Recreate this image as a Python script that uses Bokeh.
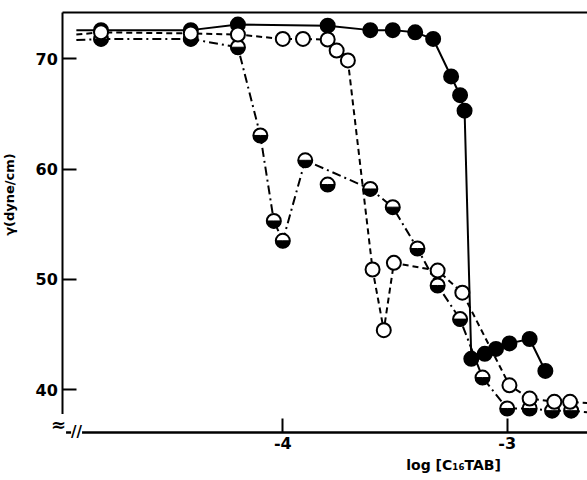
import math
from bokeh.plotting import figure
from bokeh.models import Range1d, FixedTicker, Label, LinearAxis
from bokeh.embed import file_html
from bokeh.resources import INLINE

# ---------------- data ----------------
# filled circles, solid line
filled_x = [-4.81, -4.41, -4.20, -3.80, -3.61, -3.51, -3.41, -3.33, -3.25, -3.21, -3.19,
            -3.16, -3.10, -3.05, -2.99, -2.90, -2.83]
filled_y = [72.6, 72.6, 73.1, 73.0, 72.6, 72.6, 72.4, 71.8, 68.4, 66.7, 65.3,
            42.8, 43.25, 43.7, 44.2, 44.6, 41.7]

# open circles, dashed line
open_x = [-4.81, -4.41, -4.20, -4.00, -3.91, -3.80, -3.76, -3.71, -3.60, -3.55, -3.505,
          -3.31, -3.20, -2.99, -2.90, -2.79, -2.72]
open_y = [72.4, 72.3, 72.2, 71.8, 71.8, 71.75, 70.75, 69.85, 50.9, 45.4, 51.5,
          50.8, 48.8, 40.4, 39.2, 38.9, 38.9]

# half-filled circles, dash-dot line (one point lies off the curve)
half_x = [-4.81, -4.41, -4.20, -4.10, -4.04, -4.00, -3.90, -3.80, -3.61, -3.51, -3.40,
          -3.31, -3.21, -3.11, -3.00, -2.90, -2.80, -2.715]
half_y = [71.8, 71.8, 71.05, 63.05, 55.3, 53.5, 60.8, 58.6, 58.2, 56.55, 52.8,
          49.45, 46.4, 41.1, 38.3, 38.3, 38.1, 38.1]
half_on_curve = [True, True, True, True, True, True, True, False, True, True, True,
                 True, True, True, True, True, True, True]

# where the drawn curves start / end beyond the markers
curve_start_x = -4.92
solid_start_y = 72.6
dashed_start_y = 72.2
dashdot_start_y = 71.7
curve_end_x = -2.64
dashed_end_y = 38.8
dashdot_end_y = 37.95

x_ticks = [-4, -3]
x_tick_labels = {-4: "-4", -3: "-3"}
y_ticks = [40, 50, 60, 70]
x_label = "log [C\u2081\u2086TAB]"
y_label = "\u03b3(dyne/cm)"

# axes box (data units)
X0, X1 = -4.98, -2.64
Y0, Y1 = 36.16, 74.2
# whole canvas (data units) so that texts outside the box are not clipped
CX0, CX1 = -5.258, -2.6422
CY0, CY1 = 31.77, 75.286

FONT = "DejaVu Sans"

p = figure(width=587, height=480, output_backend="svg", toolbar_location=None,
           x_range=Range1d(CX0, CX1), y_range=Range1d(CY0, CY1),
           min_border=0, min_border_left=0, min_border_right=0,
           min_border_top=0, min_border_bottom=0)
p.grid.visible = False
p.xaxis.visible = False
p.yaxis.visible = False
p.outline_line_color = None
p.background_fill_color = "white"
p.border_fill_color = "white"


def style_axis(ax, ticks, lw):
    ax.ticker = FixedTicker(ticks=ticks)
    ax.major_tick_in = 14
    ax.major_tick_out = 0
    ax.minor_tick_line_color = None
    ax.axis_line_width = lw
    ax.axis_line_color = "black"
    ax.major_tick_line_width = 2
    ax.major_tick_line_color = "black"
    ax.major_label_text_font = FONT
    ax.major_label_text_font_style = "bold"
    ax.major_label_text_font_size = "16px"
    ax.major_label_text_color = "black"
    ax.major_label_standoff = 5


xa = LinearAxis(fixed_location=Y0, bounds=(X0, X1))
style_axis(xa, x_ticks, 2.5)
xa.major_label_overrides = x_tick_labels
p.add_layout(xa, "below")

ya = LinearAxis(fixed_location=X0, bounds=(Y0, Y1))
style_axis(ya, y_ticks, 2)
p.add_layout(ya, "left")

top = LinearAxis(fixed_location=Y1, bounds=(X0, X1))
top.ticker = FixedTicker(ticks=[])
top.axis_line_width = 2
top.axis_line_color = "black"
top.major_label_text_font_size = "0px"
p.add_layout(top, "above")

# curves
sx = [curve_start_x] + filled_x
sy = [solid_start_y] + filled_y
p.line(sx, sy, line_color="black", line_width=2)

dx = [curve_start_x] + open_x + [curve_end_x]
dy = [dashed_start_y] + open_y + [dashed_end_y]
p.line(dx, dy, line_color="black", line_width=2, line_dash="6 4")

hx = [curve_start_x] + [x for x, k in zip(half_x, half_on_curve) if k] + [curve_end_x]
hy = [dashdot_start_y] + [y for y, k in zip(half_y, half_on_curve) if k] + [dashdot_end_y]
p.line(hx, hy, line_color="black", line_width=2, line_dash="9 4 2 4")

# markers
MS = 14
p.scatter(half_x, half_y, marker="circle", size=MS, fill_color="white", line_color=None)
p.wedge(half_x, half_y, radius=MS / 2, radius_units="screen",
        start_angle=math.pi, end_angle=2 * math.pi, fill_color="black", line_color="black")
p.scatter(half_x, half_y, marker="circle", size=MS, fill_color=None, line_color="black", line_width=2)

p.scatter(filled_x, filled_y, marker="circle", size=MS, fill_color="black", line_color="black", line_width=2)
p.scatter(open_x, open_y, marker="circle", size=MS, fill_color="white", line_color="black", line_width=2)

# axis labels
p.add_layout(Label(x=-3.239, y=33.13, text=x_label, text_align="center", text_baseline="middle",
                   text_font=FONT, text_font_style="bold", text_font_size="14px", text_color="black"))
p.add_layout(Label(x=-5.218, y=57.7, text=y_label, text_align="center", text_baseline="middle",
                   angle=math.pi / 2, text_font=FONT, text_font_style="bold", text_font_size="13px",
                   text_color="black"))

# axis break marks
p.add_layout(Label(x=-4.9995, y=36.85, text="\u2248", text_align="center", text_baseline="middle",
                   text_font=FONT, text_font_style="bold", text_font_size="18px", text_color="black",
                   background_fill_color="white"))
p.add_layout(Label(x=-4.919, y=36.13, text="//", text_align="center", text_baseline="middle",
                   text_font=FONT, text_font_style="bold", text_font_size="15px", text_color="black",
                   background_fill_color="white"))

open("out.html", "w").write(file_html(p, INLINE))
